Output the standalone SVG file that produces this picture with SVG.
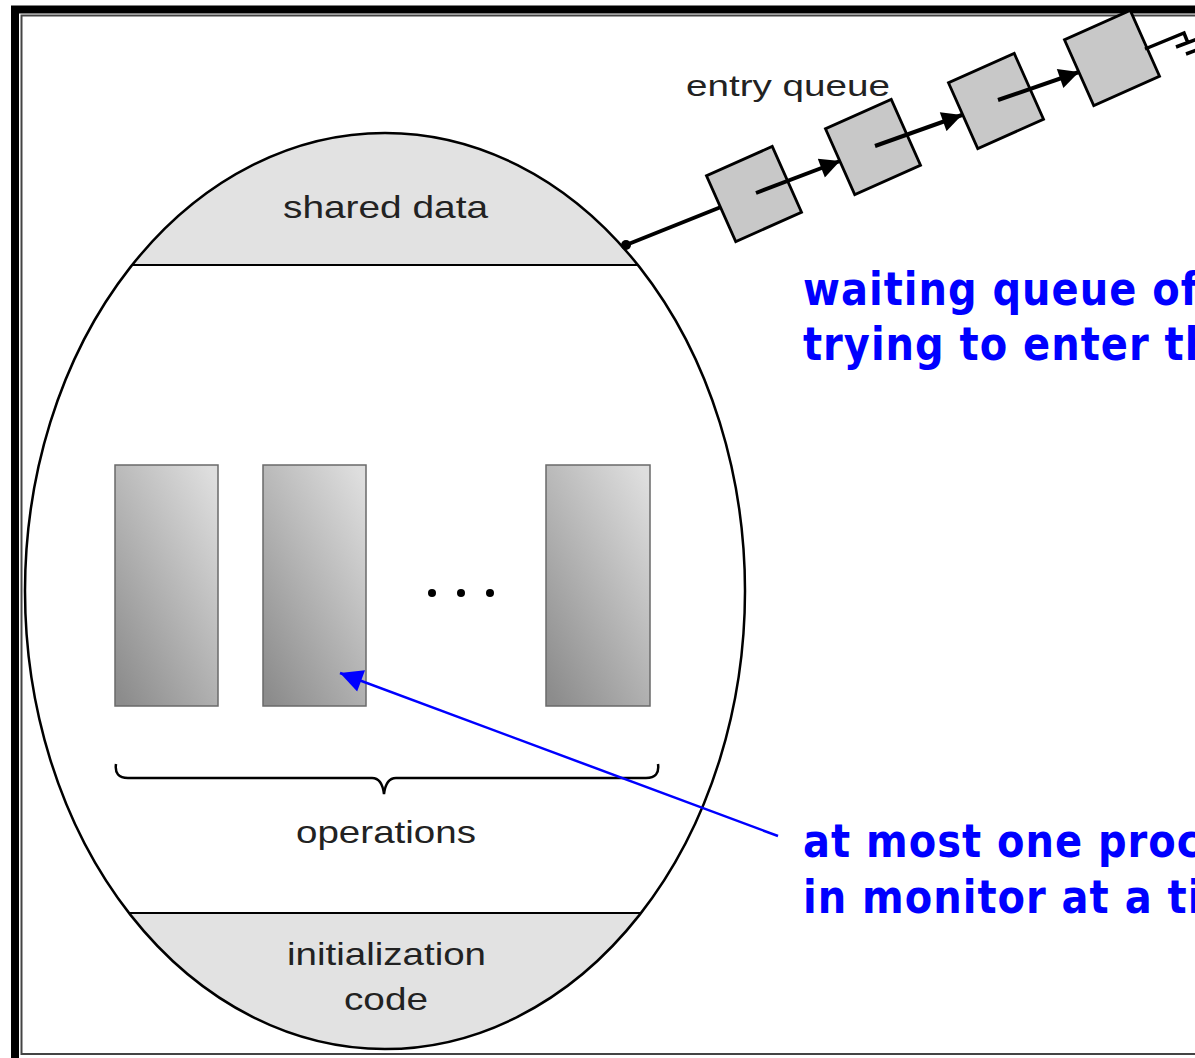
<svg xmlns="http://www.w3.org/2000/svg" width="1195" height="1058" viewBox="0 0 1195 1058">
<style>
.lbl{font-family:"Liberation Sans",Arial,sans-serif;fill:#222;}
.blue{font-family:"DejaVu Sans",Verdana,sans-serif;font-weight:bold;fill:#0000ff;font-size:40px;letter-spacing:1px;}
.sq{fill:#c8c8c8;stroke:#000;stroke-width:2.8;}
.op{fill:url(#opg);stroke:#6a6a6a;stroke-width:1.5;}
.qline{stroke:#000;stroke-width:4;fill:none;}
</style>
<defs>
<linearGradient id="opg" x1="0.9" y1="0" x2="0.1" y2="1">
<stop offset="0" stop-color="#dedede"/>
<stop offset="1" stop-color="#8c8c8c"/>
</linearGradient>
<clipPath id="ell"><ellipse cx="385" cy="591" rx="360" ry="458"/></clipPath>
<marker id="qarr" viewBox="0 0 10 10" refX="10" refY="5" markerWidth="5.5" markerHeight="5" orient="auto" markerUnits="strokeWidth">
<path d="M0,0 L10,5 L0,10 z" fill="#000"/>
</marker>
<marker id="barr" viewBox="0 0 10 10" refX="10" refY="5" markerWidth="11" markerHeight="9" orient="auto" markerUnits="strokeWidth">
<path d="M0,0 L10,5 L0,10 z" fill="#0000ff"/>
</marker>
</defs>
<rect x="0" y="0" width="1195" height="1058" fill="#fff"/>
<g id="frame">
<rect x="15" y="9.5" width="1300" height="1100" fill="none" stroke="#000" stroke-width="8"/>
<rect x="21.5" y="15.5" width="1300" height="1038.5" fill="none" stroke="#444" stroke-width="2"/>
</g>
<g id="monitor">
<ellipse cx="385" cy="591" rx="360" ry="458" fill="#fff"/>
<g clip-path="url(#ell)">
<rect x="0" y="100" width="800" height="165" fill="#e2e2e2"/>
<rect x="0" y="913" width="800" height="160" fill="#e2e2e2"/>
</g>
<line x1="100" y1="265" x2="670" y2="265" stroke="#000" stroke-width="2" clip-path="url(#ell)"/>
<line x1="100" y1="913" x2="670" y2="913" stroke="#000" stroke-width="2" clip-path="url(#ell)"/>
<ellipse cx="385" cy="591" rx="360" ry="458" fill="none" stroke="#000" stroke-width="2.5"/>
</g>
<g id="shared-data">
<text class="lbl" x="385.5" y="218" font-size="32" text-anchor="middle" textLength="205" lengthAdjust="spacingAndGlyphs">shared data</text>
</g>
<g id="operations">
<rect class="op" x="115" y="465" width="103" height="241"/>
<rect class="op" x="263" y="465" width="103" height="241"/>
<rect class="op" x="546" y="465" width="104" height="241"/>
<circle cx="432" cy="593" r="4" fill="#000"/>
<circle cx="461" cy="593" r="4" fill="#000"/>
<circle cx="490" cy="593" r="4" fill="#000"/>
<path d="M116,764 Q114,778 128,778 L372,778 Q382,778 384,794 Q386,778 396,778 L646,778 Q660,778 658,764" fill="none" stroke="#000" stroke-width="2.5"/>
<text class="lbl" x="386" y="843" font-size="32" text-anchor="middle" textLength="180" lengthAdjust="spacingAndGlyphs">operations</text>
</g>
<g id="initialization-code">
<text class="lbl" x="386.5" y="965" font-size="32" text-anchor="middle" textLength="199" lengthAdjust="spacingAndGlyphs">initialization</text>
<text class="lbl" x="386" y="1010" font-size="32" text-anchor="middle" textLength="84" lengthAdjust="spacingAndGlyphs">code</text>
</g>
<g id="entry-queue">
<text class="lbl" x="788" y="96" font-size="30" text-anchor="middle" textLength="204" lengthAdjust="spacingAndGlyphs">entry queue</text>
<rect class="sq" x="-36" y="-36" width="72" height="72" transform="translate(754 194) rotate(-24)"/>
<rect class="sq" x="-36" y="-36" width="72" height="72" transform="translate(873 147) rotate(-24)"/>
<rect class="sq" x="-36" y="-36" width="72" height="72" transform="translate(996 101) rotate(-24)"/>
<rect class="sq" x="-36" y="-36" width="72" height="72" transform="translate(1112 58) rotate(-24)"/>
</g>
<g id="connectors">
<circle cx="626" cy="245" r="5" fill="#000"/>
<line class="qline" x1="626" y1="245" x2="721" y2="207"/>
<line class="qline" x1="756" y1="193" x2="840" y2="161" marker-end="url(#qarr)"/>
<line class="qline" x1="875" y1="146" x2="962" y2="115" marker-end="url(#qarr)"/>
<line class="qline" x1="998" y1="100" x2="1079" y2="72" marker-end="url(#qarr)"/>
<path d="M1145,49 L1184,33 L1188,43 M1176,47 L1197,39 M1186,54 L1197,50" fill="none" stroke="#000" stroke-width="3.5"/>
<line x1="778" y1="836" x2="340" y2="673" stroke="#0000ff" stroke-width="2.5" marker-end="url(#barr)"/>
</g>
<g id="notes">
<text class="blue" transform="translate(803 305) scale(1 1.14)">waiting queue of processes</text>
<text class="blue" transform="translate(803 360) scale(1 1.14)">trying to enter the monitor</text>
<text class="blue" transform="translate(803 857) scale(1 1.14)">at most one process</text>
<text class="blue" transform="translate(803 913) scale(1 1.14)">in monitor at a time</text>
</g>
</svg>
